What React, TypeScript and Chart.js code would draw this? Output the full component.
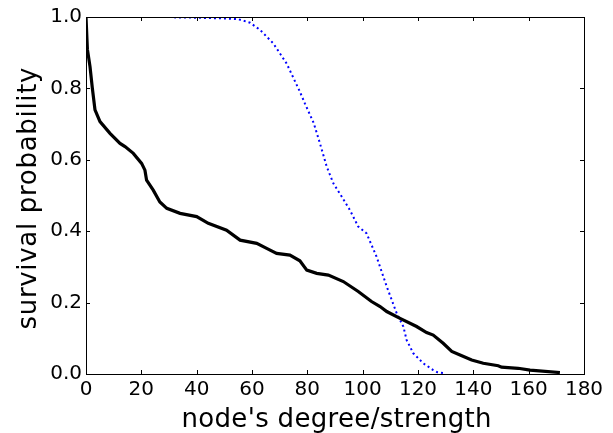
import React, { useEffect, useRef } from "react";
import { Chart, registerables } from "chart.js";

Chart.register(...registerables);

// Black solid curve: survival probability vs node degree
const degreeX = [0, 0.5, 1.45, 2.3, 3.25, 5.06, 8.67, 12.3, 14.1, 17.1, 20.1, 21.3, 21.9, 24.3, 26.7, 29.2, 34, 40, 44.2, 50.8, 55.7, 61.7, 65.3, 68.9, 73.7, 77.3, 79.8, 83.4, 87.6, 93, 98.4, 103.2, 106.3, 108.7, 113.5, 119.5, 123.1, 125.5, 129.1, 132.2, 135.2, 139.4, 143.6, 149, 150.2, 156.2, 160.5, 171.3];
const degreeY = [1.0, 0.91, 0.861, 0.8, 0.74, 0.707, 0.674, 0.646, 0.637, 0.618, 0.59, 0.571, 0.543, 0.515, 0.482, 0.464, 0.45, 0.441, 0.422, 0.403, 0.375, 0.366, 0.352, 0.338, 0.333, 0.317, 0.291, 0.282, 0.277, 0.259, 0.231, 0.203, 0.189, 0.175, 0.156, 0.133, 0.116, 0.109, 0.086, 0.063, 0.053, 0.039, 0.03, 0.023, 0.019, 0.016, 0.011, 0.004];

// Blue dotted curve: survival probability vs node strength
const strengthX = [31.8, 40, 50, 55, 59.3, 62.9, 67.7, 72.5, 77.3, 79.1, 82.3, 84.6, 87, 89.4, 92.4, 95.4, 98.4, 101.4, 105, 108.7, 112.3, 114.7, 115.9, 118.3, 121.9, 125.5, 127, 129.7];
const strengthY = [0.999, 0.998, 0.996, 0.994, 0.984, 0.964, 0.926, 0.87, 0.791, 0.758, 0.703, 0.645, 0.581, 0.534, 0.497, 0.459, 0.413, 0.394, 0.329, 0.245, 0.17, 0.133, 0.095, 0.058, 0.03, 0.011, 0.005, 0.002];

const xTicks = [0, 20, 40, 60, 80, 100, 120, 140, 160, 180];
const yTicks = [0.0, 0.2, 0.4, 0.6, 0.8, 1.0];

const xTitle = "node's degree/strength";
const yTitle = "survival probability";

const FONT = "'DejaVu Sans', 'Liberation Sans', sans-serif";

function drawSpaced(ctx: CanvasRenderingContext2D, text: string, x: number, y: number, target: number) {
  (ctx as any).letterSpacing = "0px";
  const w = ctx.measureText(text).width;
  const sp = Math.max(0, (target - w) / (text.length - 1));
  (ctx as any).letterSpacing = sp + "px";
  ctx.textAlign = "left";
  ctx.textBaseline = "alphabetic";
  ctx.fillText(text, x - target / 2, y);
  (ctx as any).letterSpacing = "0px";
}

const frameTicks = {
  id: "frameTicks",
  afterDraw(chart: any) {
    const { ctx, chartArea: a, scales } = chart;
    const xs = scales.x, ys = scales.y;
    ctx.save();
    ctx.strokeStyle = "#000";
    ctx.lineWidth = 1;
    const L = 4;
    ctx.beginPath();
    xTicks.forEach((v) => {
      const px = Math.round(xs.getPixelForValue(v)) + 0.5;
      ctx.moveTo(px, a.bottom);
      ctx.lineTo(px, a.bottom - L);
      ctx.moveTo(px, a.top);
      ctx.lineTo(px, a.top + L);
    });
    yTicks.forEach((v) => {
      const py = Math.round(ys.getPixelForValue(v)) + 0.5;
      ctx.moveTo(a.left, py);
      ctx.lineTo(a.left + L, py);
      ctx.moveTo(a.right, py);
      ctx.lineTo(a.right - L, py);
    });
    ctx.stroke();
    ctx.strokeRect(Math.round(a.left) + 0.5, Math.round(a.top) + 0.5, Math.round(a.right - a.left), Math.round(a.bottom - a.top));

    // axis titles
    ctx.fillStyle = "#000";
    ctx.font = `26px ${FONT}`;
    const cx = (a.left + a.right) / 2;
    drawSpaced(ctx, xTitle, cx + 1.5, 427, 310);
    ctx.save();
    ctx.translate(36, (a.top + a.bottom) / 2 + 3);
    ctx.rotate(-Math.PI / 2);
    drawSpaced(ctx, yTitle, 0, 0, 262);
    ctx.restore();
    ctx.restore();
  },
};

export default function App() {
  const ref = useRef<HTMLCanvasElement>(null);
  useEffect(() => {
    document.body.style.margin = "0";
    const chart = new Chart(ref.current!, {
      type: "line",
      data: {
        datasets: [
          {
            label: "degree",
            data: degreeX.map((x, i) => ({ x, y: degreeY[i] })),
            borderColor: "#000000",
            borderWidth: 3.2,
            pointRadius: 0,
            tension: 0,
            fill: false,
          },
          {
            label: "strength",
            data: strengthX.map((x, i) => ({ x, y: strengthY[i] })),
            borderColor: "#0000ff",
            borderWidth: 2,
            borderDash: [2, 3],
            pointRadius: 0,
            tension: 0,
            fill: false,
          },
        ],
      },
      options: {
        animation: false,
        responsive: false,
        devicePixelRatio: 1,
        layout: { padding: { top: 17, right: 29, left: 0, bottom: 0 } },
        plugins: { legend: { display: false }, tooltip: { enabled: false } },
        scales: {
          x: {
            type: "linear",
            min: 0,
            max: 180,
            afterBuildTicks: (s: any) => { s.ticks = xTicks.map((v) => ({ value: v })); },
            afterFit: (s: any) => { s.height = 59; },
            grid: { display: false, drawTicks: false },
            border: { display: false },
            ticks: { color: "#000", font: { family: FONT, size: 20 }, padding: 4, maxRotation: 0, autoSkip: false },
            title: { display: false },
          },
          y: {
            type: "linear",
            min: 0,
            max: 1,
            afterBuildTicks: (s: any) => { s.ticks = yTicks.map((v) => ({ value: v })); },
            afterFit: (s: any) => { s.width = 86; },
            grid: { display: false, drawTicks: false },
            border: { display: false },
            ticks: { color: "#000", font: { family: FONT, size: 20 }, padding: 4, callback: (v: any) => Number(v).toFixed(1) },
            title: { display: false },
          },
        },
      },
      plugins: [frameTicks],
    });
    return () => chart.destroy();
  }, []);
  return (
    <div style={{ width: 613, height: 433, background: "#fff" }}>
      <canvas ref={ref} width={613} height={433} />
    </div>
  );
}
